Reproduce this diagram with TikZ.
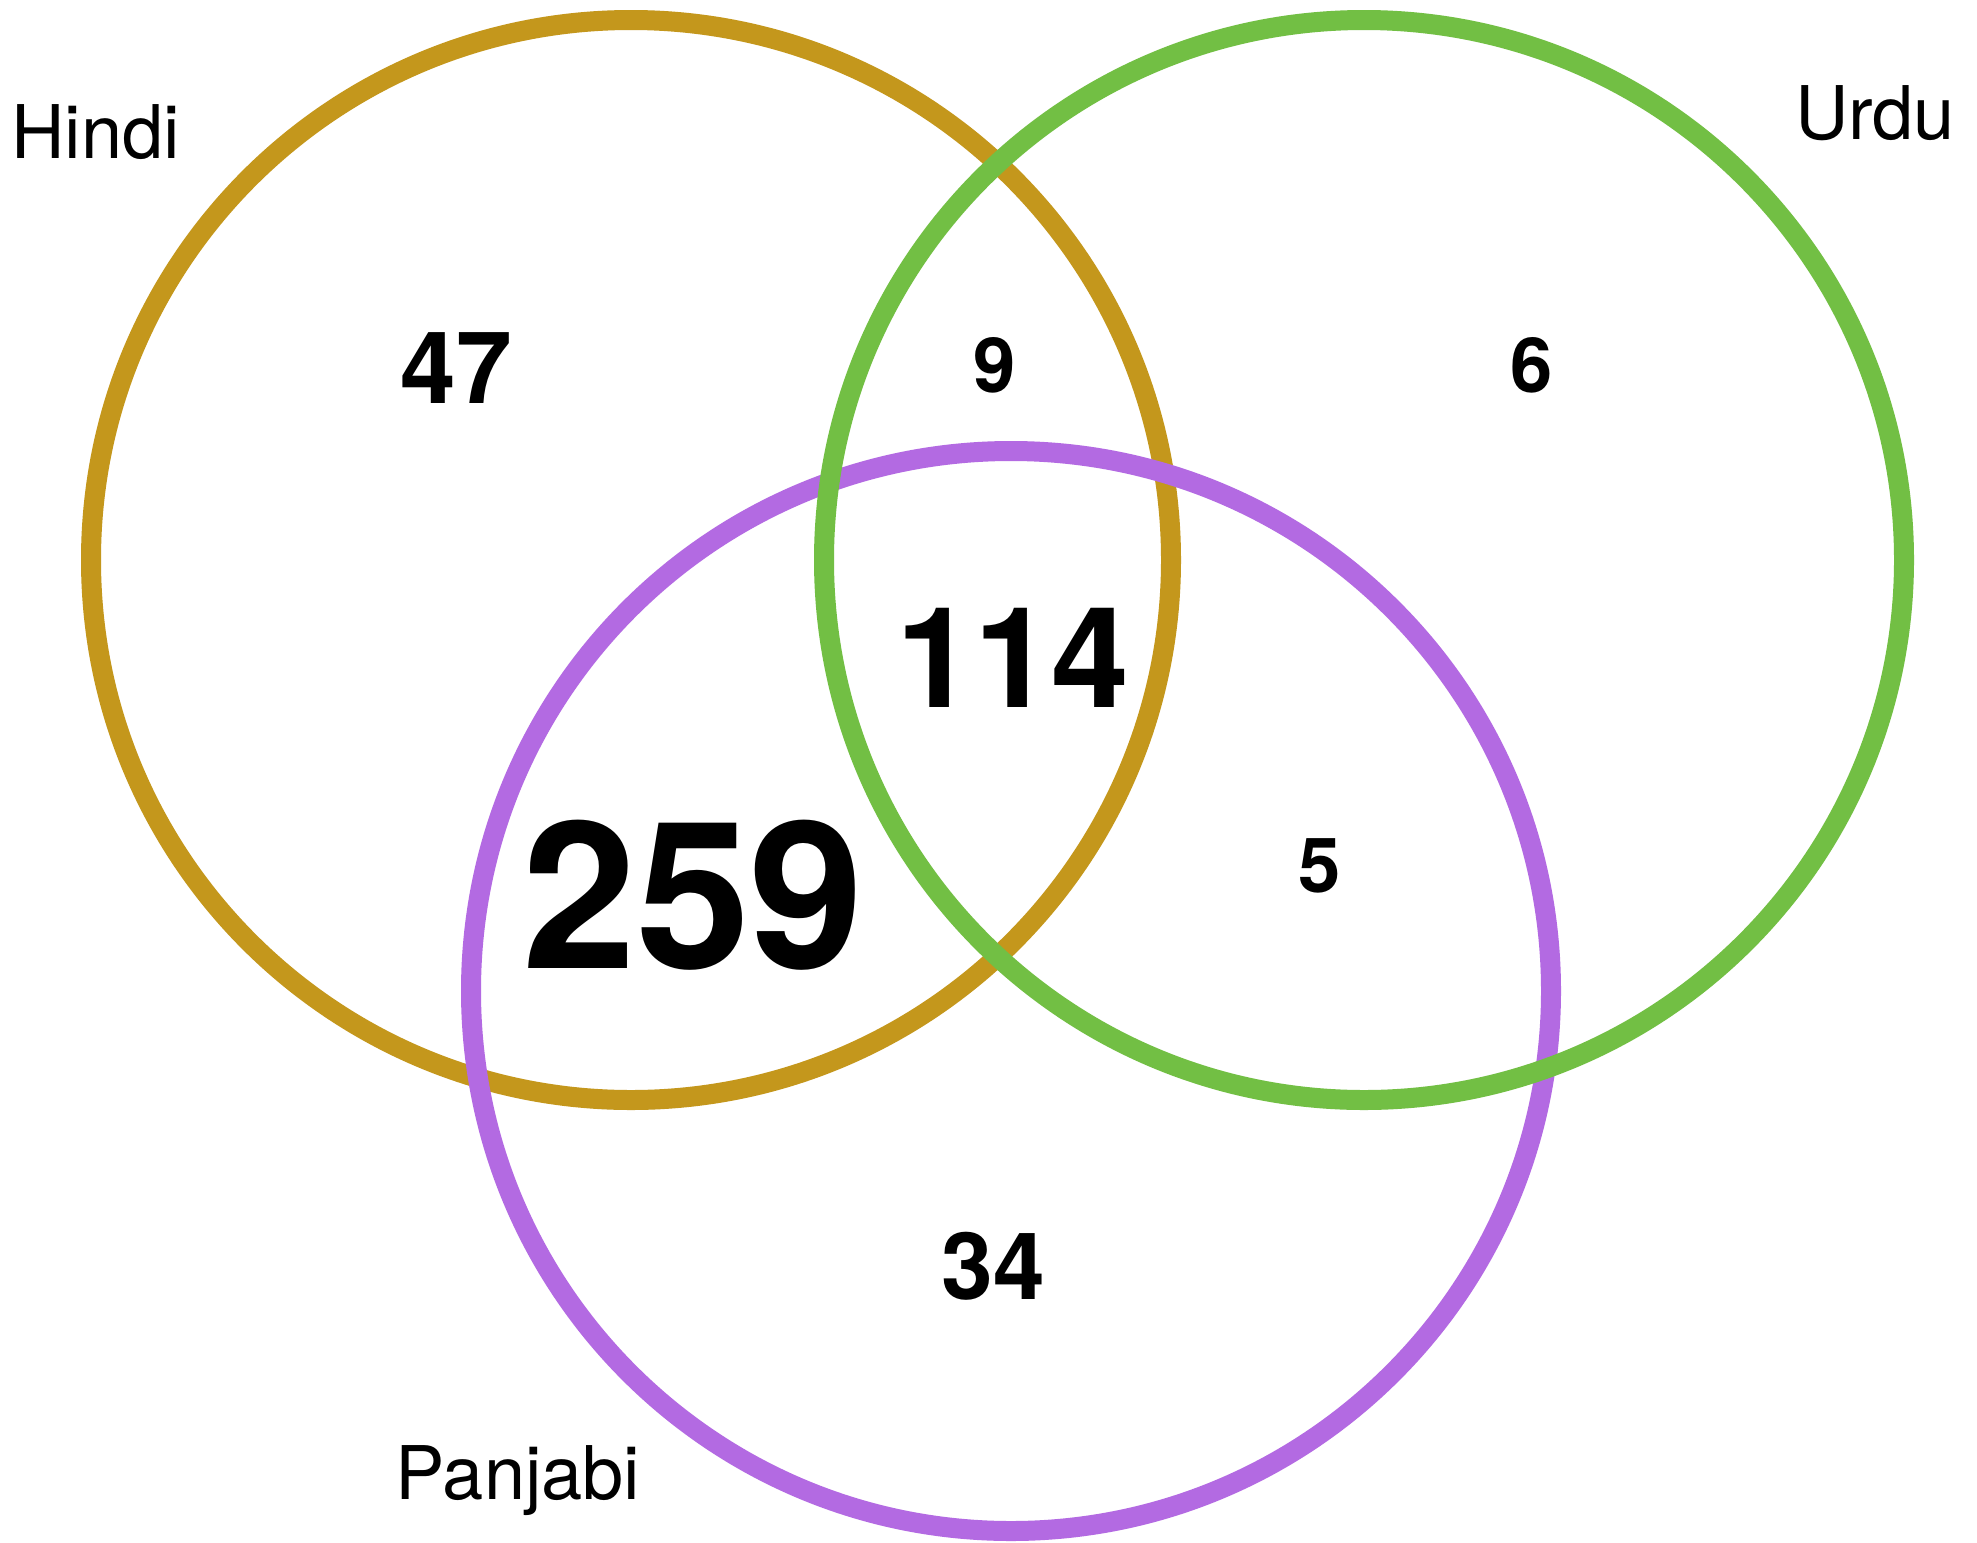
\documentclass[tikz,border=0pt]{standalone}
\usepackage{fontspec}
\setmainfont{TeX Gyre Heros}
\definecolor{hindicol}{RGB}{196,151,28}
\definecolor{urducol}{RGB}{114,191,68}
\definecolor{panjcol}{RGB}{179,106,226}
\tikzset{
  ring/.style={line width=20pt},
  setlabel/.style={inner sep=0pt, font=\fontsize{74}{74}\selectfont},
  count/.style={inner sep=0pt, anchor=base, font=\bfseries\fontsize{#1}{#1}\selectfont}
}
\begin{document}
\begin{tikzpicture}[x=1pt,y=-1pt]
\useasboundingbox (0,0) rectangle (1977,1542);
\fill[white] (0,0) rectangle (1977,1542);
\coordinate (ch) at (631,560);
\coordinate (cu) at (1364,560);
\coordinate (cp) at (1011,991);
\draw[ring, hindicol] (ch) circle[radius=540];
\draw[ring, panjcol] (cp) circle[radius=540];
\draw[ring, urducol] (cu) circle[radius=540];
\node[setlabel, anchor=base west] (lh) at (11,158) {Hindi};
\node[setlabel, anchor=base] (lu) at (1875,139) {Urdu};
\node[setlabel, anchor=base] (lp) at (518,1499) {Panjabi};
\node[count=100] (n47) at (456,403) {47};
\node[count=76] (n9) at (995,392) {9};
\node[count=76] (n6) at (1532,392) {6};
\node[count=140] (n114) at (1013,707) {114};
\node[count=205] (n259) at (693,968) {259};
\node[count=76] (n5) at (1320,892) {5};
\node[count=93] (n34) at (993,1299) {34};
\end{tikzpicture}
\end{document}
